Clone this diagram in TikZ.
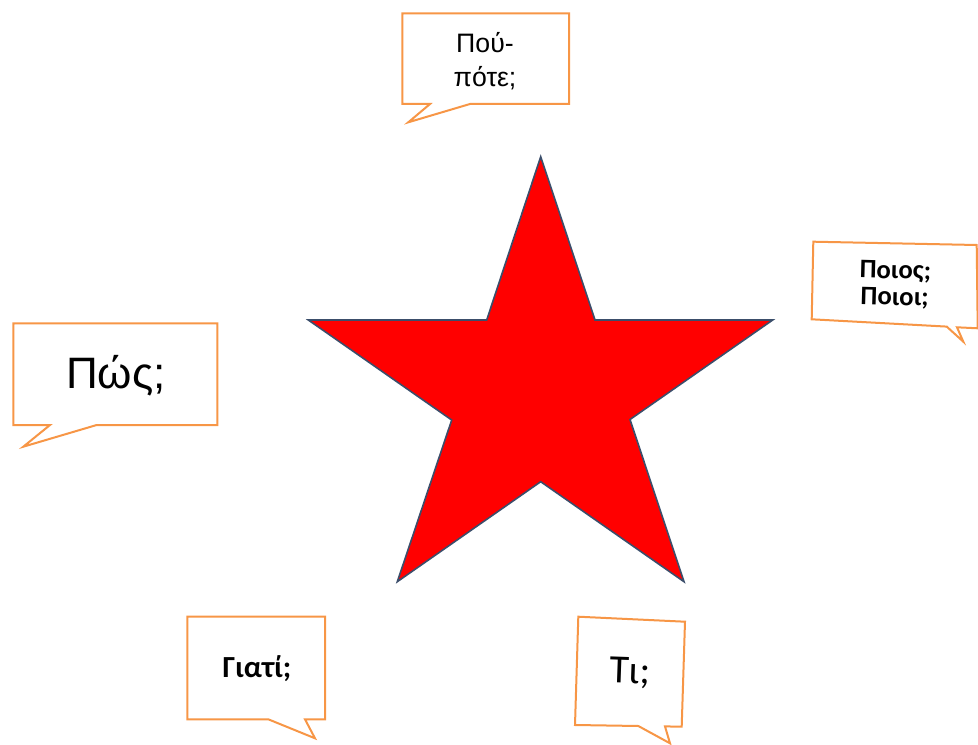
\documentclass[tikz,border=0pt]{standalone}
\usepackage{fontspec}
\setmainfont{Liberation Sans}
\newfontfamily\calfont{Carlito}
\definecolor{calloutorange}{HTML}{F79646}
\definecolor{starred}{HTML}{FF0000}
\definecolor{staredge}{HTML}{3B4E6B}
\begin{document}
\begin{tikzpicture}[x=0.75pt,y=-0.75pt,
  bubble/.style={draw=calloutorange,line width=1.5pt,fill=white,line join=miter},
  label/.style={inner sep=0pt,align=center,text=black}]
\useasboundingbox (0,0) rectangle (978,745);
% star
\draw[fill=starred,draw=staredge,line width=1.2pt,line join=miter]
  (540.7,156.7) -- (595,320) -- (772.7,320) -- (630,419.5) -- (684,581.7)
  -- (540.7,481.7) -- (397.3,581.7) -- (451.7,420) -- (308.3,320) -- (486.7,320) -- cycle;
\coordinate (star) at (540.7,380);
% top callout
\draw[bubble] (402.3,13.3) -- (569,13.3) -- (569,104) -- (470,104) -- (408.3,122.3) -- (430,104) -- (402.3,104) -- cycle;
\node[label,font=\fontsize{20}{25.5}\selectfont] (where) at (485,61) {Πού-\\πότε;};
% right callout
\draw[bubble] (813.3,241.7) -- (976.7,245) -- (977.7,328.3) -- (957,327.3) -- (963.3,341.7) -- (946.7,326.6) -- (811.7,319.3) -- cycle;
\node[label,font=\calfont\bfseries\fontsize{20}{20}\selectfont,rotate=-1.5] (who) at (895,285) {Ποιος;\\Ποιοι;};
% left callout
\draw[bubble] (13.3,323.3) -- (217.3,323.3) -- (217.3,425) -- (96.7,425) -- (23.3,446.7) -- (50,425) -- (13.3,425) -- cycle;
\node[label,font=\fontsize{33}{38}\selectfont] (how) at (116,376) {Πώς;};
% bottom-left callout
\draw[bubble] (187.3,616.7) -- (325,616.7) -- (325,719.3) -- (305,719.3) -- (315,738.3) -- (268.3,719.3) -- (187.3,719.3) -- cycle;
\node[label,font=\calfont\bfseries\fontsize{23}{26}\selectfont] (why) at (257,669) {Γιατί;};
% bottom-right callout
\draw[bubble] (578.3,616.7) -- (685,621.7) -- (681.7,726.7) -- (665,726.4) -- (670,743.3) -- (638.3,726) -- (575,725) -- cycle;
\node[label,font=\calfont\fontsize{30}{34}\selectfont,rotate=-2] (what) at (630,673) {Τι;};
\end{tikzpicture}
\end{document}
